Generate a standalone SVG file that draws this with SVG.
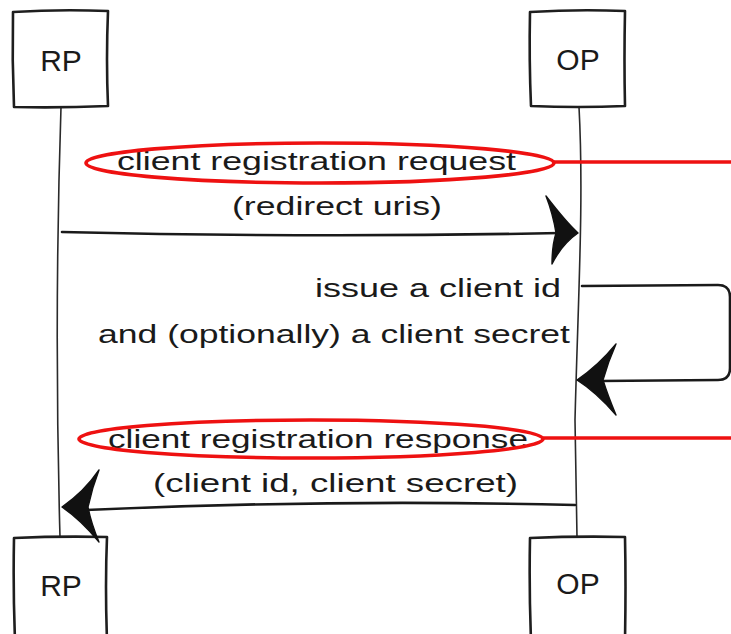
<svg xmlns="http://www.w3.org/2000/svg" width="731" height="634" viewBox="0 0 731 634">
  <style>
    .box { fill: #ffffff; stroke: #1e1e1e; stroke-width: 2.6; stroke-linejoin: round; }
    .life { fill: none; stroke: #2a2a2a; stroke-width: 1.6; }
    .msg { fill: none; stroke: #1a1a1a; stroke-width: 2.6; stroke-linecap: round; stroke-linejoin: round; }
    .head { fill: #111111; stroke: #111111; stroke-width: 1.4; stroke-linejoin: round; }
    .hl { fill: none; stroke: #ee1111; stroke-width: 3.6; }
    .lbl { font-family: "Liberation Sans", "DejaVu Sans", sans-serif; font-size: 25px; fill: #1a1a1a; }
    .actor { font-family: "Liberation Sans", "DejaVu Sans", sans-serif; font-size: 30px; fill: #1a1a1a; text-anchor: middle; }
  </style>

  <rect x="0" y="0" width="731" height="634" fill="#ffffff"/>

  <!-- lifelines -->
  <g id="lifelines">
    <path class="life" d="M61,107 Q54,320 60,537"/>
    <path class="life" d="M579,107 C584,200 578,300 575,420 L577,537"/>
  </g>

  <!-- participants, top -->
  <g id="rp-top">
    <path class="box" d="M13,12 Q60,9 108,11 Q106,60 108,106 Q60,108 14,107 Q12,60 13,12 Z"/>
    <text class="actor" x="61" y="71">RP</text>
  </g>
  <g id="op-top">
    <path class="box" d="M530,12 Q578,9 625,11 Q624,60 625,106 Q578,108 531,106 Q529,60 530,12 Z"/>
    <text class="actor" x="578" y="70">OP</text>
  </g>

  <!-- participants, bottom -->
  <g id="rp-bottom">
    <path class="box" d="M14,538 Q60,536 107,537 Q105,585 107,640 L15,640 Q13,590 14,538 Z"/>
    <text class="actor" x="61" y="596">RP</text>
  </g>
  <g id="op-bottom">
    <path class="box" d="M530,538 Q578,536 625,537 Q626,585 625,640 L531,640 Q529,590 530,538 Z"/>
    <text class="actor" x="578" y="594">OP</text>
  </g>

  <!-- messages -->
  <g id="connectors">
    <!-- RP -> OP registration request -->
    <path class="msg" d="M62,232 Q320,238 560,233"/>
    <path class="head" d="M546,196 Q566,222 578,233 Q562,244 552,264 Q552,246 556,233 Q553,214 546,196 Z"/>

    <!-- OP self call -->
    <path class="msg" d="M582,286 L718,285 Q730,285 730,297 L730,368 Q730,380 718,380 L600,381"/>
    <path class="head" d="M616,344 Q598,366 577,380 Q596,392 616,415 Q608,396 603,380 Q608,362 616,344 Z"/>

    <!-- OP -> RP registration response -->
    <path class="msg" d="M575,505 Q330,499 86,510"/>
    <path class="head" d="M99,470 Q84,492 62,507 Q81,520 99,542 Q91,523 88,507 Q92,488 99,470 Z"/>
  </g>

  <!-- message labels -->
  <g id="label-request">
    <text class="lbl" x="117" y="170" textLength="399" lengthAdjust="spacingAndGlyphs">client registration request</text>
    <text class="lbl" x="232" y="215" textLength="210" lengthAdjust="spacingAndGlyphs">(redirect uris)</text>
  </g>
  <g id="label-self">
    <text class="lbl" x="315" y="297" textLength="246" lengthAdjust="spacingAndGlyphs">issue a client id</text>
    <text class="lbl" x="98" y="343" textLength="472" lengthAdjust="spacingAndGlyphs">and (optionally) a client secret</text>
  </g>
  <g id="label-response">
    <text class="lbl" x="108" y="448" textLength="420" lengthAdjust="spacingAndGlyphs">client registration response</text>
    <text class="lbl" x="153" y="492" textLength="365" lengthAdjust="spacingAndGlyphs">(client id, client secret)</text>
  </g>

  <!-- highlights -->
  <g id="highlights">
    <ellipse class="hl" cx="320" cy="163" rx="234" ry="20"/>
    <path class="hl" d="M554,162 L731,162"/>
    <ellipse class="hl" cx="311" cy="439" rx="232" ry="19"/>
    <path class="hl" d="M543,438 L731,438"/>
  </g>
</svg>
